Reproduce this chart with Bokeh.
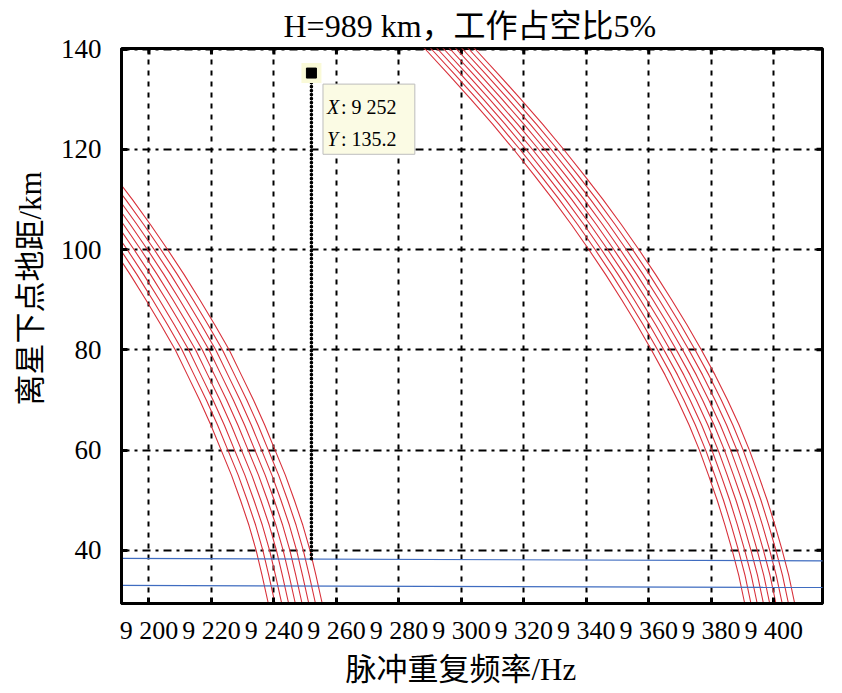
import math
from bokeh.plotting import figure
from bokeh.models import Range1d, FixedTicker, Title
from bokeh.core.properties import value
from bokeh.embed import file_html
from bokeh.resources import INLINE

# ---------------- data ----------------
x_ticks = [9200, 9220, 9240, 9260, 9280, 9300, 9320, 9340, 9360, 9380, 9400]
x_tick_labels = ["9 200", "9 220", "9 240", "9 260", "9 280", "9 300",
                 "9 320", "9 340", "9 360", "9 380", "9 400"]
y_ticks = [40, 60, 80, 100, 120, 140]

# left family: first (lowest) curve, then horizontal offsets of the 9 curves
left_y = [25, 29.4, 35, 40, 45, 50, 55, 60, 65, 70, 75, 80, 85, 90, 95,
          100, 105, 110, 115, 120]
left_x = [9239.5, 9238.2, 9236.2, 9234.3, 9232.0, 9229.3, 9226.4, 9223.1,
          9219.8, 9216.2, 9212.3, 9208.4, 9203.8, 9199.0, 9194.0, 9188.7,
          9183.2, 9177.4, 9171.3, 9165.0]
left_offsets = [0, 2.15, 4.3, 6.5, 8.65, 10.8, 12.95, 15.1, 17.25]

# right family
right_y = [25, 29.4, 35, 40, 45, 50, 55, 60, 65, 70, 75, 80, 85, 90, 95,
           100, 105, 110, 115, 120, 125, 130, 135, 140, 145]
right_x = [9392.0, 9390.7, 9388.8, 9386.7, 9384.4, 9381.9, 9379.1, 9376.2,
           9372.9, 9369.2, 9365.2, 9360.8, 9356.2, 9351.3, 9346.2, 9340.8,
           9335.2, 9329.3, 9323.1, 9316.7, 9310.0, 9303.0, 9295.8, 9288.4, 9280.6]
right_offsets = [0, 2.0, 4.0, 6.0, 8.0, 10.0, 12.0, 14.0, 16.0]

# blue (nadir echo) lines
blue_x = [9190, 9416]
blue_upper = [38.4, 37.9]
blue_lower = [33.0, 32.6]

# data tip
tip_x = 9252
tip_y = 135.2
tip_line_bottom = 38.35
tip_x_text = "9 252"
tip_y_text = "135.2"

title_text = "H=989 km，工作占空比5%"
x_label = "脉冲重复频率/Hz"
y_label = "离星下点地距/km"

# ---------------- figure ----------------
FONT = "'Liberation Serif', 'Noto Sans CJK SC'"
X0, X1 = 9191.2, 9415.6
Y0, Y1 = 29.4, 140.1

p = figure(width=826, height=692, output_backend="svg", toolbar_location=None,
           x_range=Range1d(X0, X1), y_range=Range1d(Y0, Y1),
           min_border_left=121, min_border_right=4, min_border_top=48,
           min_border_bottom=89)
p.background_fill_color = "white"
p.border_fill_color = "white"
p.outline_line_color = "black"
p.outline_line_width = 3

p.title.text = title_text
p.title.text_font = FONT
p.title.text_font_size = "32px"
p.title.text_font_style = "normal"
p.title.text_color = "black"
p.title.align = "left"
p.title.offset = 162
p.title.standoff = 10

def style_axis(ax):
    ax.axis_line_width = 3
    ax.axis_line_color = "black"
    ax.major_tick_in = 6
    ax.major_tick_out = 0
    ax.major_tick_line_width = 3
    ax.major_tick_line_color = "black"
    ax.minor_tick_line_color = None
    ax.major_label_text_font = FONT
    ax.major_label_text_color = "black"

xa = p.xaxis[0]
xa.ticker = FixedTicker(ticks=x_ticks)
xa.major_label_overrides = {t: s for t, s in zip(x_ticks, x_tick_labels)}
style_axis(xa)
xa.major_label_text_font_size = "26px"
xa.major_label_standoff = 12

ya = p.yaxis[0]
ya.ticker = FixedTicker(ticks=y_ticks)
style_axis(ya)
ya.major_label_text_font_size = "27px"
ya.major_label_standoff = 20

# axis titles (placed like the reference, not centred on the frame)
p.add_layout(Title(text=x_label, text_font=FONT, text_font_size="31px",
                   text_font_style="normal", text_color="black",
                   align="left", offset=224, vertical_align="top",
                   standoff=8), "below")
p.add_layout(Title(text=y_label, text_font=FONT, text_font_size="31px",
                   text_font_style="normal", text_color="black",
                   align="left", offset=198, vertical_align="bottom",
                   standoff=20), "left")

# inward tick marks on the top and right edges of the box
p.scatter(x_ticks, [Y1] * len(x_ticks), marker="dash", size=12, angle=math.pi / 2,
          line_color="black", line_width=3)
p.scatter([X1] * len(y_ticks), y_ticks, marker="dash", size=12,
          line_color="black", line_width=3)

p.xgrid.ticker = FixedTicker(ticks=x_ticks)
p.ygrid.ticker = FixedTicker(ticks=y_ticks)
p.xgrid.grid_line_color = "black"
p.xgrid.grid_line_width = 2
p.xgrid.grid_line_dash = "5 6"
p.ygrid.grid_line_color = "black"
p.ygrid.grid_line_width = 2
p.ygrid.grid_line_dash = "8 5 3 5"

RED = "#D8303A"
BLUE = "#3F6CC0"

for off in left_offsets:
    p.line([x + off for x in left_x], left_y, line_color=RED, line_width=1.1)
for off in right_offsets:
    p.line([x + off for x in right_x], right_y, line_color=RED, line_width=1.1)

p.line(blue_x, blue_upper, line_color=BLUE, line_width=1.2)
p.line(blue_x, blue_lower, line_color=BLUE, line_width=1.2)

# dotted vertical line of the data tip
p.line([tip_x, tip_x], [tip_line_bottom, tip_y], line_color="black",
       line_width=3.6, line_dash="0 4", line_cap="round")
p.scatter([tip_x], [tip_y], marker="square", size=20, fill_color="#FAFAD8",
          line_color=None)
p.scatter([tip_x], [tip_y], marker="square", size=10, fill_color="black",
          line_color="black")

# data tip box
p.quad(left=[tip_x + 3.7], right=[tip_x + 33.1], top=[tip_y - 2.2],
       bottom=[tip_y - 16.2], fill_color="#FBFBE4", line_color="#BDBDBD",
       line_width=1)
for dy, key, val in [(-6.8, "X", tip_x_text), (-13.2, "Y", tip_y_text)]:
    p.text([tip_x + 5.0], [tip_y + dy], text=[key], text_font=value(FONT),
           text_font_size="20px", text_font_style="italic", text_color="black",
           text_baseline="middle", text_align="left")
    p.text([tip_x + 5.0], [tip_y + dy], text=[": " + val], text_font=value(FONT),
           text_font_size="20px", text_color="black", x_offset=14,
           text_baseline="middle", text_align="left")

open("out.html", "w").write(file_html(p, INLINE))
